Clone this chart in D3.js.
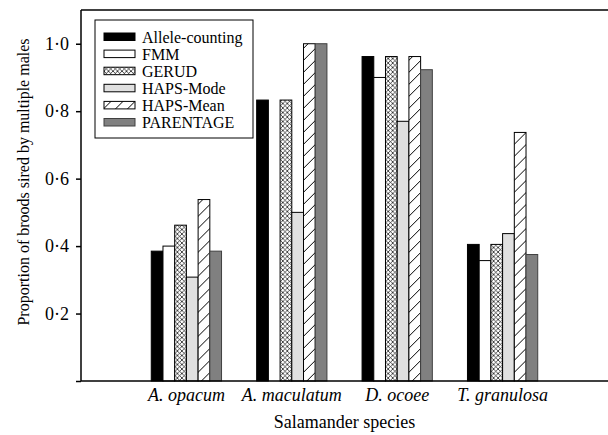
<!DOCTYPE html>
<html>
<head>
<meta charset="utf-8">
<script src="https://cdn.jsdelivr.net/npm/d3@7/dist/d3.min.js"></script>
<style>
  body { margin: 0; background: #fff; }
  svg text { font-family: "Liberation Serif", "Times New Roman", Times, serif; }
</style>
</head>
<body>
<svg id="chart" width="608" height="435"></svg>
<script>
'use strict';

// species on the x axis
var species = ['A. opacum', 'A. maculatum', 'D. ocoee', 'T. granulosa'];

// methods (one bar each per species)
var methods = ['Allele-counting', 'FMM', 'GERUD', 'HAPS-Mode', 'HAPS-Mean', 'PARENTAGE'];

// values, in species order; null = no bar
var alleleCounting = [0.385, 0.833, 0.962, 0.405];
var fmm            = [0.40,  null,  0.90,  0.357];
var gerud          = [0.462, 0.833, 0.962, 0.405];
var hapsMode       = [0.308, 0.50,  0.77,  0.437];
var hapsMean       = [0.538, 1.0,   0.962, 0.737];
var parentage      = [0.385, 1.0,   0.923, 0.375];

var yTicks = [0, 0.2, 0.4, 0.6, 0.8, 1.0];

var seriesValues = [alleleCounting, fmm, gerud, hapsMode, hapsMean, parentage];

var FONT = '"Liberation Serif", "Times New Roman", Times, serif';

var margin = { left: 81, right: 0, top: 10, bottom: 54 },
    width = 608, height = 435;

var svg = d3.select('#chart');
var defs = svg.append('defs');

// crosshatch for GERUD
var cross = defs.append('pattern')
  .attr('id', 'cross')
  .attr('patternUnits', 'userSpaceOnUse')
  .attr('width', 4.5).attr('height', 4.5);
cross.append('rect').attr('width', 4.5).attr('height', 4.5).attr('fill', '#fff');
cross.append('path')
  .attr('d', 'M0,0L4.5,4.5M4.5,0L0,4.5')
  .attr('stroke', '#000').attr('stroke-width', 0.7);

// diagonal hatch for HAPS-Mean
var hatch = defs.append('pattern')
  .attr('id', 'hatch')
  .attr('patternUnits', 'userSpaceOnUse')
  .attr('width', 12).attr('height', 12);
hatch.append('rect').attr('width', 12).attr('height', 12).attr('fill', '#fff');
hatch.append('path')
  .attr('d', 'M0,12L12,0M-2,2L2,-2M10,14L14,10')
  .attr('stroke', '#000').attr('stroke-width', 1);

var fills = ['#000', '#fff', 'url(#cross)', '#e0e0e0', 'url(#hatch)', '#808080'];
var strokes = ['#000', '#000', '#000', '#000', '#000', '#404040'];

var x = d3.scalePoint()
  .domain(species)
  .range([margin.left, width - margin.right])
  .padding(1);

var groupWidth = x.step() * 2 / 3;

var xInner = d3.scaleBand()
  .domain(methods)
  .range([-groupWidth / 2, groupWidth / 2]);

var y = d3.scaleLinear()
  .domain([0, 1.1])
  .range([height - margin.bottom, margin.top]);

// bars
var groups = svg.append('g').attr('class', 'bars')
  .selectAll('g')
  .data(species)
  .enter().append('g')
  .attr('transform', function(d) { return 'translate(' + x(d) + ',0)'; });

groups.selectAll('rect')
  .data(function(d, i) {
    return methods.map(function(m, j) {
      return { method: m, idx: j, value: seriesValues[j][i] };
    }).filter(function(e) { return e.value != null; });
  })
  .enter().append('rect')
  .attr('x', function(d) { return xInner(d.method); })
  .attr('width', xInner.bandwidth())
  .attr('y', function(d) { return y(d.value); })
  .attr('height', function(d) { return y(0) - y(d.value); })
  .attr('fill', function(d) { return fills[d.idx]; })
  .attr('stroke', function(d) { return strokes[d.idx]; })
  .attr('stroke-width', 1);

// axes
var yAxis = d3.axisLeft(y)
  .tickValues(yTicks)
  .tickSize(5)
  .tickPadding(7)
  .tickFormat(function(d) { return d === 0 ? '' : d3.format('.1f')(d).replace('.', '\u00b7'); });

var yg = svg.append('g')
  .attr('transform', 'translate(' + margin.left + ',0)')
  .call(yAxis)
  .attr('font-family', FONT)
  .attr('font-size', 18);
yg.select('.domain').remove();
yg.selectAll('line').attr('stroke', '#000').attr('stroke-width', 1.5);
yg.selectAll('text')
  .style('font-family', FONT)
  .style('font-size', '18px')
  .attr('fill', '#000');

var frame = svg.append('g').attr('class', 'frame')
  .attr('stroke', '#000').attr('fill', 'none');
frame.append('line')
  .attr('x1', margin.left).attr('x2', margin.left)
  .attr('y1', y.range()[1]).attr('y2', y(0))
  .attr('stroke-width', 1.5);
frame.append('line')
  .attr('x1', margin.left).attr('x2', width)
  .attr('y1', y(0)).attr('y2', y(0))
  .attr('stroke-width', 1.5);
frame.append('line')
  .attr('x1', margin.left).attr('x2', width)
  .attr('y1', y.range()[1]).attr('y2', y.range()[1])
  .attr('stroke-width', 1.5);

// category labels
svg.append('g').selectAll('text')
  .data(species)
  .enter().append('text')
  .attr('x', function(d) { return x(d); })
  .attr('y', y(0) + 20)
  .attr('text-anchor', 'middle')
  .style('font-family', FONT)
  .style('font-size', '18px')
  .style('font-style', 'italic')
  .text(function(d) { return d; });

// axis titles
svg.append('text')
  .attr('x', (margin.left + width) / 2)
  .attr('y', 428)
  .attr('text-anchor', 'middle')
  .style('font-family', FONT)
  .style('font-size', '18px')
  .text('Salamander species');

svg.append('text')
  .attr('transform', 'translate(29,182) rotate(-90)')
  .attr('text-anchor', 'middle')
  .style('font-family', FONT)
  .style('font-size', '16px')
  .text('Proportion of broods sired by multiple males');

// legend
var legend = svg.append('g').attr('class', 'legend')
  .attr('transform', 'translate(95,20)');
legend.append('rect')
  .attr('width', 158).attr('height', 118)
  .attr('fill', '#fff').attr('stroke', '#000').attr('stroke-width', 1);

var items = legend.selectAll('g.item')
  .data(methods)
  .enter().append('g')
  .attr('class', 'item')
  .attr('transform', function(d, i) { return 'translate(0,' + (17 + i * 17.1) + ')'; });

items.append('rect')
  .attr('x', 9).attr('y', -4)
  .attr('width', 31).attr('height', 7.5)
  .attr('fill', function(d, i) { return fills[i]; })
  .attr('stroke', function(d, i) { return strokes[i]; })
  .attr('stroke-width', 1);

items.append('text')
  .attr('x', 47).attr('y', 5.5)
  .style('font-family', FONT)
  .style('font-size', '16px')
  .text(function(d) { return d; });
</script>
</body>
</html>
